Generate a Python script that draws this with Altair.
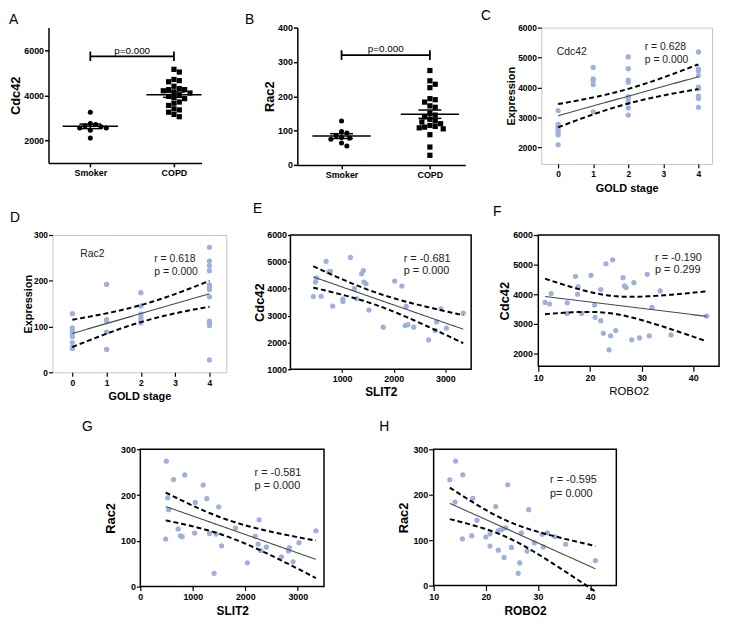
import altair as alt
import numpy as np
import pandas as pd

FONT = "Liberation Sans"
PT = "#9DB1DB"

# ---------------- data ----------------
# A / B : Smoker vs COPD
A_SMOKER = [3250, 2750, 2700, 2650, 2600, 2550, 2550, 2450, 2100]
A_COPD = [5150, 5030, 4700, 4650, 4600, 4400, 4300, 4250, 4250, 4200, 4150, 4100,
          4000, 3950, 3900, 3850, 3700, 3650, 3550, 3400, 3350, 3250, 3150, 3050]
B_SMOKER = [128, 97, 93, 85, 80, 78, 75, 64, 55]
B_COPD = [275, 245, 235, 225, 193, 190, 183, 172, 168, 150, 145, 140,
          133, 128, 125, 120, 115, 112, 110, 108, 105, 88, 52, 28]
GROUPS = ["Smoker", "COPD"]

# C / D : GOLD stage
C_GOLD = [0, 0, 0, 0, 0, 0, 0, 0, 1, 1, 1, 1, 1, 2, 2, 2, 2, 2, 2, 2, 2, 2,
          4, 4, 4, 4, 4, 4, 4, 4, 4]
C_CDC42 = [3230, 2770, 2710, 2620, 2550, 2480, 2420, 2090,
           4670, 4290, 4230, 4100, 3190,
           5020, 4630, 4250, 4180, 3700, 3620, 3500, 3320, 3080,
           5190, 4620, 4560, 4400, 4010, 3960, 3710, 3630, 3340]
D_GOLD = [0, 0, 0, 0, 0, 0, 0, 0, 1, 1, 1, 1, 1, 2, 2, 2, 2, 2, 2,
          4, 4, 4, 4, 4, 4, 4, 4, 4, 4, 4, 4]
D_RAC2 = [128, 97, 92, 85, 78, 65, 55, 52,
          192, 115, 112, 88, 50,
          174, 145, 127, 120, 115, 108,
          273, 243, 233, 222, 191, 186, 181, 165, 112, 108, 102, 27]

# E : SLIT2 vs Cdc42
E_SLIT2 = [441, 485, 505, 594, 690, 741, 773, 818, 1016, 1016, 1162, 1239, 1284, 1380,
           1411, 1424, 1463, 1520, 1795, 2018, 2159, 2242, 2223, 2274, 2389, 2676,
           2804, 2830, 2913, 3021, 3347]
E_CDC42 = [3708, 4248, 4407, 3720, 5020, 4627, 4650, 3353, 3610, 3525, 5167, 4002, 3635,
           4554, 4676, 4248, 4186, 3206, 2568, 4284, 4100, 3340, 2630, 2667, 2568, 2100,
           2446, 2765, 3255, 2532, 3095]

# F : ROBO2 vs Cdc42
F_ROBO2 = [11.3, 12.2, 12.5, 15.6, 15.6, 17.2, 17.7, 17.6, 18.4, 20.2, 22.1, 20.9, 21.0,
           22.1, 22.6, 23.1, 24.4, 24.0, 23.7, 25.0, 26.4, 26.7, 27.0, 28.5, 28.1, 29.6,
           31.1, 31.5, 32.0, 33.6, 35.7, 42.6]
F_CDC42 = [3714, 3659, 4017, 3703, 3345, 4600, 4241, 3994, 3345, 4633, 4151, 3625, 3210,
           3098, 2672, 5025, 5160, 2583, 2112, 2762, 4555, 4275, 4218, 4386, 2448, 2515,
           4667, 2583, 3546, 4106, 2616, 3255]

# G : SLIT2 vs Rac2
G_SLIT2 = [496, 634, 847, 1198, 521, 539, 1267, 1047, 1493, 721, 765, 797, 483, 1035, 1317,
           1442, 1549, 1405, 1813, 2039, 2189, 2264, 2245, 2290, 2402, 2690, 2822, 2841,
           2911, 3024, 3345]
G_RAC2 = [274, 234, 244, 222, 194, 168, 192, 184, 174, 126, 111, 109, 104, 117, 116,
          115, 89, 29, 128, 52, 110, 146, 93, 79, 86, 65, 78, 85, 54, 96, 122]

# H : ROBO2 vs Rac2
H_ROBO2 = [13.1, 14.2, 15.6, 14.1, 17.5, 18.3, 17.3, 15.5, 20.0, 20.8, 20.8, 21.9, 22.4,
           23.0, 23.8, 24.2, 22.4, 23.5, 24.9, 26.8, 26.5, 26.2, 28.2, 27.9, 29.3, 30.8,
           31.8, 33.2, 35.3, 31.0, 41.0]
H_RAC2 = [233, 274, 244, 184, 192, 144, 110, 103, 107, 114, 87, 174, 121, 123, 127, 222,
          78, 62, 84, 116, 50, 27, 167, 76, 94, 113, 116, 108, 91, 85, 55]

ONE = pd.DataFrame({"k": [0]})


# ---------------- helpers ----------------
def reg_frame(x, y, n=80):
    x = np.asarray(x, float)
    y = np.asarray(y, float)
    slope, icpt = np.polyfit(x, y, 1)
    xs = np.linspace(x.min(), x.max(), n)
    fit = icpt + slope * xs
    resid = y - (icpt + slope * x)
    k = len(x)
    s = np.sqrt(np.sum(resid ** 2) / (k - 2))
    sxx = np.sum((x - x.mean()) ** 2)
    se = s * np.sqrt(1.0 / k + (xs - x.mean()) ** 2 / sxx)
    t = 2.04
    return pd.DataFrame({"x": xs, "fit": fit, "lo": fit - t * se, "hi": fit + t * se})


def swarm(vals, px_y, px_x, d=5.4):
    vals = np.asarray(vals, float)
    ypx = vals * px_y
    order = np.argsort(-vals)
    placed = []
    off = np.zeros(len(vals))
    cands = [0.0]
    for k in range(1, 40):
        cands += [k * d * 0.5, -k * d * 0.5]
    for i in order:
        chosen = 0.0
        for c in cands:
            if all((c - px) ** 2 + (ypx[i] - py) ** 2 >= d * d for px, py in placed):
                chosen = c
                break
        placed.append((chosen, ypx[i]))
        off[i] = chosen / px_x
    return off


def make_axis(values, title, lab_size, lab_weight, title_size, title_weight, domain,
              tick_size, tick_w, title_pad, lab_pad, fmt=None, label_expr=None):
    kw = dict(values=values, grid=False, labelFont=FONT, labelFontSize=lab_size,
              labelFontWeight=lab_weight, labelColor="black", labelPadding=lab_pad,
              labelFlush=False, labelOverlap=False, tickColor="black", tickSize=tick_size,
              tickWidth=tick_w, domain=domain, titleFont=FONT, titleFontSize=title_size,
              titleFontWeight=title_weight, titleColor="black", titlePadding=title_pad,
              title=title)
    if domain:
        kw.update(domainColor="black", domainWidth=1.5)
    if fmt:
        kw["format"] = fmt
    if label_expr:
        kw["labelExpr"] = label_expr
    return alt.Axis(**kw)


def letter(ch, dx, dy):
    return alt.Chart(ONE).mark_text(
        text=ch, align="left", baseline="alphabetic", font=FONT, fontSize=14, color="black"
    ).encode(x=alt.value(dx), y=alt.value(dy))


def spacer(w, h=1):
    return alt.Chart(ONE).mark_text(text=" ", fontSize=1, opacity=0).encode(
        x=alt.value(0), y=alt.value(0)
    ).properties(width=w, height=h, view=alt.ViewBackground(strokeWidth=0))


def dot_panel(smoker, copd, xdom, ydom, yvals, w, h, ytitle, sig_y, sig_d, sig_ty,
              ch, ldx, ldy, ytp):
    px_y = h / (ydom[1] - ydom[0])
    px_x = w / (xdom[1] - xdom[0])
    sm = pd.DataFrame({"xp": 0 + swarm(smoker, px_y, px_x), "v": smoker})
    cp = pd.DataFrame({"xp": 1 + swarm(copd, px_y, px_x), "v": copd})
    rows = []
    for c, vals in enumerate([smoker, copd]):
        a = np.asarray(vals, float)
        m = a.mean()
        se = a.std(ddof=1) / np.sqrt(len(a))
        rows.append(dict(c=float(c), m=m, lo=m - se, hi=m + se, x1=c - 0.33, x2=c + 0.33,
                         c1=c - 0.13, c2=c + 0.13))
    st = pd.DataFrame(rows)
    xs = alt.Scale(domain=xdom, nice=False, zero=False)
    ys = alt.Scale(domain=ydom, nice=False, zero=False)
    xax = make_axis([0, 1], None, 9, "bold", 9, "bold", True, 4, 1.5, 2, 2,
                    label_expr="datum.value == 0 ? '%s' : '%s'" % (GROUPS[0], GROUPS[1]))
    yax = make_axis(yvals, ytitle, 9, "bold", 13, "bold", True, 4, 1.5, ytp, 1, fmt="d")

    def X(f):
        return alt.X(f, scale=xs, axis=xax)

    def Y(f):
        return alt.Y(f, scale=ys, axis=yax)

    layers = [
        alt.Chart(sm).mark_point(shape="circle", filled=True, size=26, color="black", opacity=1)
        .encode(x=X("xp:Q"), y=Y("v:Q")),
        alt.Chart(cp).mark_point(shape="square", filled=True, size=28, color="black", opacity=1)
        .encode(x=X("xp:Q"), y=Y("v:Q")),
        alt.Chart(st).mark_rule(color="black", strokeWidth=1.5)
        .encode(x=X("x1:Q"), x2="x2:Q", y=Y("m:Q")),
        alt.Chart(st).mark_rule(color="black", strokeWidth=1.5)
        .encode(x=X("c:Q"), y=Y("lo:Q"), y2="hi:Q"),
        alt.Chart(st).mark_rule(color="black", strokeWidth=1.5)
        .encode(x=X("c1:Q"), x2="c2:Q", y=Y("lo:Q")),
        alt.Chart(st).mark_rule(color="black", strokeWidth=1.5)
        .encode(x=X("c1:Q"), x2="c2:Q", y=Y("hi:Q")),
        alt.Chart(pd.DataFrame({"x1": [0.0], "x2": [1.0], "y": [sig_y]}))
        .mark_rule(color="black", strokeWidth=1.8)
        .encode(x=X("x1:Q"), x2="x2:Q", y=Y("y:Q")),
        alt.Chart(pd.DataFrame({"x": [0.0, 1.0], "y1": [sig_y - sig_d] * 2, "y2": [sig_y + sig_d] * 2}))
        .mark_rule(color="black", strokeWidth=1.8)
        .encode(x=X("x:Q"), y=Y("y1:Q"), y2="y2:Q"),
        alt.Chart(pd.DataFrame({"x": [0.5], "y": [sig_ty], "t": ["p=0.000"]}))
        .mark_text(font=FONT, fontSize=10, color="black", align="center", baseline="alphabetic")
        .encode(x=X("x:Q"), y=Y("y:Q"), text="t:N"),
        letter(ch, ldx, ldy),
    ]
    return alt.layer(*layers).properties(width=w, height=h, view=alt.ViewBackground(strokeWidth=0))


STYLES = {
    "gray": dict(stroke="#C4C4C4", sw=1.0, lab=8.5, ts=11),
    "black": dict(stroke="black", sw=1.5, lab=9, ts=13),
}


def scatter_panel(x, y, xdom, ydom, xvals, yvals, w, h, xtitle, ytitle, style, notes,
                  ch, ldx, ldy, xts=11, xtw="bold", ytp=2, xtp=4, tick=4, note_size=11):
    s = STYLES[style]
    pts = pd.DataFrame({"x": x, "y": y})
    reg = reg_frame(x, y)
    xs = alt.Scale(domain=xdom, nice=False, zero=False)
    ys = alt.Scale(domain=ydom, nice=False, zero=False)
    xax = make_axis(xvals, xtitle, s["lab"], "bold", xts, xtw, False, tick, 1.2, xtp, 2, fmt="d")
    yax = make_axis(yvals, ytitle, s["lab"], "bold", s["ts"], "bold", False, tick, 1.2, ytp, 1, fmt="d")
    nd = pd.DataFrame({"x": [n[0] for n in notes], "y": [n[1] for n in notes],
                       "t": [n[2] for n in notes]})

    def X(f):
        return alt.X(f, scale=xs, axis=xax)

    def Y(f):
        return alt.Y(f, scale=ys, axis=yax)

    layers = [
        alt.Chart(pts).mark_circle(size=28, color=PT, opacity=1).encode(x=X("x:Q"), y=Y("y:Q")),
        alt.Chart(reg).mark_line(color="#4a4a4a", strokeWidth=1.1).encode(x=X("x:Q"), y=Y("fit:Q")),
        alt.Chart(reg).mark_line(color="black", strokeWidth=2, strokeDash=[5, 3])
        .encode(x=X("x:Q"), y=Y("lo:Q")),
        alt.Chart(reg).mark_line(color="black", strokeWidth=2, strokeDash=[5, 3])
        .encode(x=X("x:Q"), y=Y("hi:Q")),
        alt.Chart(nd).mark_text(font=FONT, fontSize=note_size, color="#222", align="left",
                                baseline="middle")
        .encode(x=X("x:Q"), y=Y("y:Q"), text="t:N"),
        letter(ch, ldx, ldy),
    ]
    return alt.layer(*layers).properties(
        width=w, height=h, view=alt.ViewBackground(stroke=s["stroke"], strokeWidth=s["sw"])
    )


# ---------------- panels ----------------
pA = dot_panel(A_SMOKER, A_COPD, [-0.5, 1.33], [1000, 7000], [2000, 4000, 6000], 155, 137,
               "Cdc42", 5730, 210, 5850, "A", -40, -4, 1)
pB = dot_panel(B_SMOKER, B_COPD, [-0.5, 1.4], [0, 400], [0, 100, 200, 300, 400], 170, 139,
               "Rac2", 320, 14, 328, "B", -53, -4, 1)
pC = scatter_panel(C_GOLD, C_CDC42, [-0.48, 4.39], [1450, 6000], [0, 1, 2, 3, 4],
                   [2000, 3000, 4000, 5000, 6000], 173, 138, "GOLD stage", "Expression", "gray",
                   [(-0.04, 5195, "Cdc42"), (2.47, 5360, "r = 0.628"), (2.47, 4920, "p = 0.000")],
                   "C", -61, -8, ytp=1.5, xtp=4, note_size=10.5)
pD = scatter_panel(D_GOLD, D_RAC2, [-0.58, 4.49], [0, 300], [0, 1, 2, 3, 4],
                   [0, 100, 200, 300], 176, 139, "GOLD stage", "Expression", "gray",
                   [(0.23, 259, "Rac2"), (2.39, 248, "r = 0.618"), (2.39, 219, "p = 0.000")],
                   "D", -43, -13, ytp=0, xtp=4, note_size=10.5)
pE = scatter_panel(E_SLIT2, E_CDC42, [0, 3500], [1000, 6000], [1000, 2000, 3000],
                   [1000, 2000, 3000, 4000, 5000, 6000], 183, 136, "SLIT2", "Cdc42", "black",
                   [(2194, 5118, "r = -0.681"), (2194, 4677, "p = 0.000")],
                   "E", -38, -22, xts=12, ytp=0, tick=3)
pF = scatter_panel(F_ROBO2, F_CDC42, [10, 45], [1550, 6000], [10, 20, 30, 40],
                   [2000, 3000, 4000, 5000, 6000], 183, 133, "ROBO2", "Cdc42", "black",
                   [(32.6, 5227, "r = -0.190"), (32.6, 4824, "p = 0.299")],
                   "F", -46, -19, xts=11.5, xtw="normal", ytp=1, tick=5)
pG = scatter_panel(G_SLIT2, G_RAC2, [0, 3500], [0, 300], [0, 1000, 2000, 3000],
                   [0, 100, 200, 300], 186, 139, "SLIT2", "Rac2", "black",
                   [(2177, 248, "r = -0.581"), (2177, 219.5, "p = 0.000")],
                   "G", -59, -19, xts=12, ytp=3)
pH = scatter_panel(H_ROBO2, H_RAC2, [10, 45], [0, 300], [10, 20, 30, 40],
                   [0, 100, 200, 300], 185, 138, "ROBO2", "Rac2", "black",
                   [(32.3, 233, "r = -0.595"), (32.3, 202, "p= 0.000")],
                   "H", -55, -19, xts=12, ytp=2, tick=5)

row1 = alt.hconcat(spacer(1), pA, spacer(42.5), pB, spacer(14.25), pC, spacing=0)
row2 = alt.hconcat(spacer(1), pD, spacer(24.5), pE, spacer(19.25), pF, spacing=0)
row3 = alt.hconcat(spacer(74), pG, spacer(53.25), pH, spacing=0)

chart = alt.vconcat(
    row1, alt.vconcat(row2, row3, spacing=17), spacing=8
).properties(
    padding={"left": 0, "top": -4, "right": 2, "bottom": 2},
).configure_view(strokeWidth=0)

chart.save("out.html", embed_options={"renderer": "svg", "actions": False})
